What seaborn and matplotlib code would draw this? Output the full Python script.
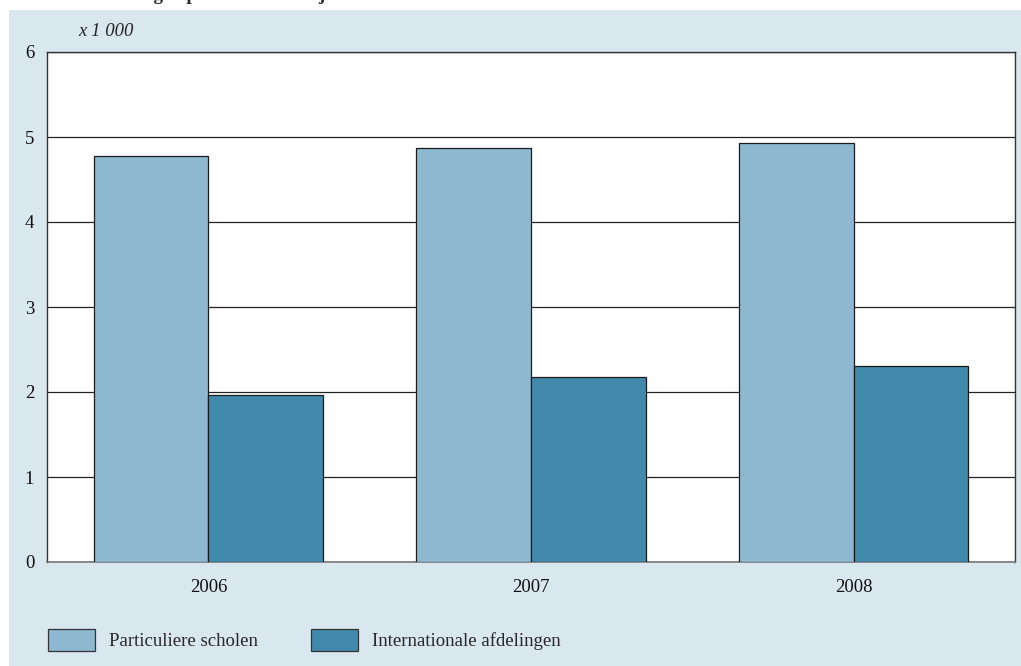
import pandas as pd
import seaborn as sns
import matplotlib.pyplot as plt
from matplotlib.patches import Rectangle, Patch

# data (x 1 000 leerlingen)
years = ["2006", "2007", "2008"]
particulier = [4.78, 4.87, 4.93]
internationaal = [1.96, 2.18, 2.31]
series_names = ["Particuliere scholen", "Internationale afdelingen"]
colors = ["#8db8cf", "#418aac"]

df = pd.DataFrame({
    "jaar": years * 2,
    "waarde": particulier + internationaal,
    "reeks": [series_names[0]] * 3 + [series_names[1]] * 3,
})

sns.set_theme(style="white")
plt.rcParams["font.family"] = ["Liberation Serif", "DejaVu Serif"]
FS = 13.5

W, H = 1021, 666
fig = plt.figure(figsize=(W / 100, H / 100), dpi=100, facecolor="white")
# light blue panel behind the chart
bg = Rectangle((9 / W, 0), 1 - 9 / W, 1 - 10 / H, transform=fig.transFigure,
               facecolor="#d9e7ef", edgecolor="none", zorder=-10)
fig.patches.append(bg)
fig.text(2 / W, 1 + 5 / H, "6.3.2 Aantal leerlingen primair onderwijs", fontsize=FS,
         fontweight="bold", va="center", ha="left")

ax = fig.add_axes([47 / W, 1 - 562 / H, (1015 - 47) / W, (562 - 52) / H])
ax.set_zorder(5)
ax.set_facecolor("white")
sns.barplot(data=df, x="jaar", y="waarde", hue="reeks", palette=colors, width=0.71,
            edgecolor="#1a1a1a", linewidth=0.9, saturation=1, legend=False, ax=ax, zorder=3)

ax.set_ylim(0, 6)
ax.set_yticks(range(0, 7))
ax.yaxis.grid(True, color="#222222", linewidth=0.9, zorder=0)
ax.set_axisbelow(True)
for s in ["left", "top", "right"]:
    ax.spines[s].set_color("#333333")
    ax.spines[s].set_linewidth(1.0)
ax.spines["bottom"].set_color("#777777")
ax.spines["bottom"].set_linewidth(1.2)
ax.set_xlabel("")
ax.set_ylabel("")
ax.tick_params(axis="both", length=0, labelsize=FS, colors="#111111")
ax.tick_params(axis="x", pad=12)
ax.tick_params(axis="y", pad=16)
for lab in ax.get_yticklabels():
    lab.set_horizontalalignment("left")

fig.text(78 / W, 1 - 31 / H, "x 1 000", fontsize=FS, style="italic", va="center", ha="left")

handles = [Patch(facecolor=c, edgecolor="#333333", linewidth=0.9) for c in colors]
fig.legend(handles, series_names, loc="center left", bbox_to_anchor=(42 / W, 1 - 640 / H),
           ncol=2, frameon=False, fontsize=FS, handlelength=2.5, handleheight=1.5,
           handletextpad=0.75, columnspacing=2.85, borderaxespad=0, borderpad=0.3)

fig.savefig("out.png", dpi=100, facecolor=fig.get_facecolor())
